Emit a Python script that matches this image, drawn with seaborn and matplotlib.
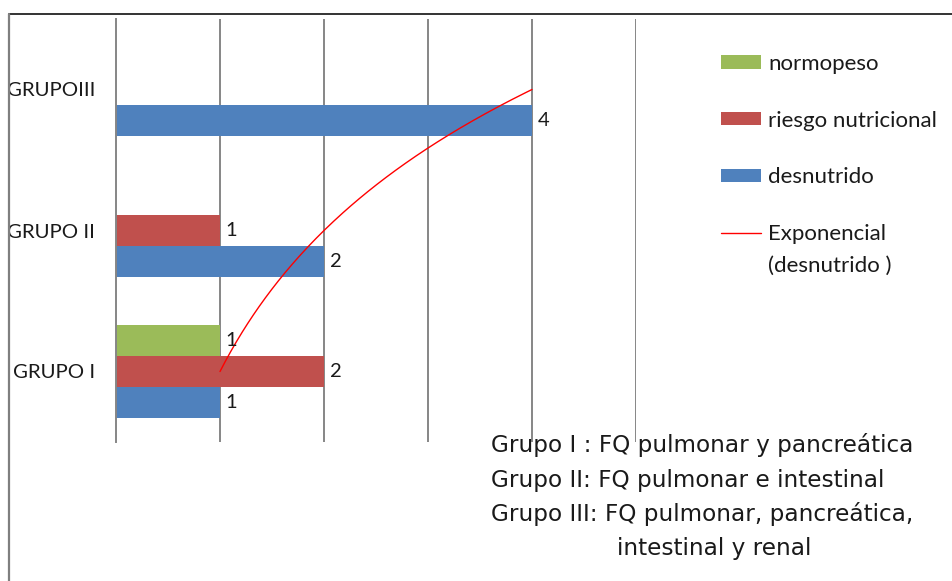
import numpy as np
import pandas as pd
import matplotlib
matplotlib.use("Agg")
import matplotlib.pyplot as plt
from matplotlib.lines import Line2D
from matplotlib.patches import Patch
import seaborn as sns

# Data: patients per nutritional state in each group
grupos = ["GRUPOIII", "GRUPO II", "GRUPO I"]
estados = ["normopeso", "riesgo nutricional", "desnutrido"]
normopeso = [0, 0, 1]
riesgo = [0, 1, 2]
desnutrido = [4, 2, 1]
colores = ["#9BBB59", "#C0504D", "#4F81BD"]
notas = [
    "Grupo I : FQ pulmonar y pancreática",
    "Grupo II: FQ pulmonar e intestinal",
    "Grupo III: FQ pulmonar, pancreática,",
    "intestinal y renal",
]

sns.set_style("white")
plt.rcParams["font.family"] = ["Lato", "DejaVu Sans"]

df = pd.DataFrame({
    "grupo": grupos * 3,
    "estado": np.repeat(estados, 3),
    "n": normopeso + riesgo + desnutrido,
})

W, H = 952, 581
fig = plt.figure(figsize=(W / 100, H / 100), dpi=100)
ax = fig.add_axes([116 / W, 1 - 442 / H, (636 - 116) / W, (442 - 19) / H])

sns.barplot(data=df, y="grupo", x="n", hue="estado", order=grupos,
            hue_order=estados, palette=colores, orient="h", width=0.66,
            linewidth=0, saturation=1, ax=ax, legend=False)

grey = "#868686"
ax.set_xlim(0, 5)
ax.set_ylim(2.5, -0.5)
ax.set_xticks([1, 2, 3, 4, 5])
ax.set_xticklabels([])
ax.tick_params(axis="x", length=0)
ax.grid(axis="x", color=grey, linewidth=1.4)
ax.set_axisbelow(True)
ax.set_xlabel("")
ax.set_ylabel("")

ax.set_yticks([0, 1, 2])
ax.set_yticklabels(grupos, fontsize=14.7, color="#1a1a1a")
ax.set_yticks([-0.5, 0.5, 1.5, 2.5], minor=True)
ax.tick_params(axis="y", which="major", length=0, pad=15)
ax.tick_params(axis="y", which="minor", length=6, width=1.4, color=grey,
               direction="out")
for s in ["top", "right", "bottom"]:
    ax.spines[s].set_visible(False)
ax.spines["left"].set_color(grey)
ax.spines["left"].set_linewidth(1.4)

# Value labels on non-empty bars
for cont in ax.containers:
    vals = cont.datavalues
    ax.bar_label(cont, labels=[f"{v:g}" if v > 0 else "" for v in vals],
                 padding=4, fontsize=14.5, color="#1a1a1a")

# Exponential trendline for desnutrido (categories numbered 1..3 from bottom)
k = np.arange(1, len(grupos) + 1)
vals_k = np.array(desnutrido[::-1], dtype=float)
b, ln_a = np.polyfit(k, np.log(vals_k), 1)
kk = np.linspace(k[0], k[-1], 200)
ax.plot(np.exp(ln_a) * np.exp(b * kk), len(grupos) - kk, color="red",
        linewidth=1.0)

# Legend
fs_leg = 16
handles = [Patch(facecolor=c, edgecolor="none") for c in colores]
handles.append(Line2D([], [], color="red", linewidth=1.0))
labels = estados + ["Exponencial"]
leg = ax.legend(handles, labels, loc="upper left",
                bbox_to_anchor=(721 / W, 1 - 54 / H),
                bbox_transform=fig.transFigure, frameon=False,
                fontsize=fs_leg, handlelength=1.8, handleheight=0.55,
                handletextpad=0.32, labelspacing=1.65, borderpad=0,
                borderaxespad=0)
for t in leg.get_texts():
    t.set_color("#1a1a1a")
ax.annotate("(desnutrido )", xy=(0, 0.5), xycoords=leg.get_texts()[3],
            xytext=(0, -23), textcoords="offset points", va="center",
            ha="left", fontsize=fs_leg, color="#1a1a1a",
            annotation_clip=False, zorder=10)

# Notes under the chart
ys = [445, 481, 514, 548]
xs = [491, 491, 491, 617]
for txt, x, y in zip(notas, xs, ys):
    fig.text(x / W, 1 - y / H, txt, fontsize=16.7, family="DejaVu Sans",
             va="center", ha="left", color="#1a1a1a")

# Outer frame
fig.add_artist(Line2D([8.5 / W, 1], [1 - 14 / H] * 2, color="#333333",
                      linewidth=1.4, transform=fig.transFigure))
fig.add_artist(Line2D([8.5 / W] * 2, [1 - 14 / H, 0], color="#7f7f7f",
                      linewidth=1.6, transform=fig.transFigure))

fig.savefig("out.png", dpi=100)
